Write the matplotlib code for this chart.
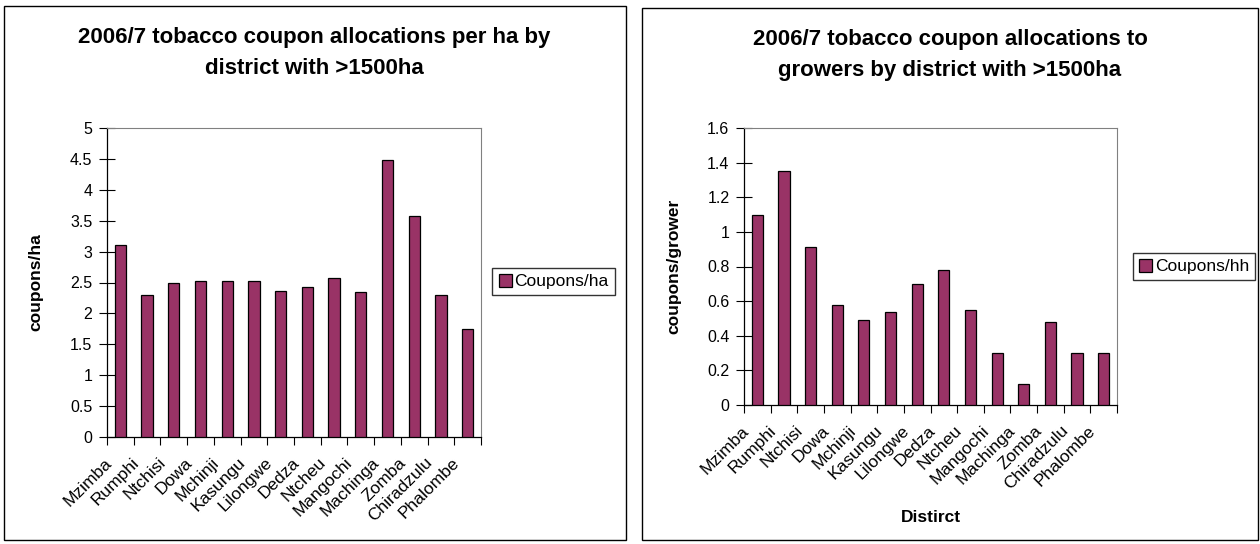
import matplotlib.pyplot as plt
import numpy as np
from matplotlib.patches import Rectangle
from matplotlib.ticker import FormatStrFormatter

plt.rcParams['font.family'] = ['Liberation Sans', 'DejaVu Sans']

# Donnees
districts = ['Mzimba', 'Rumphi', 'Ntchisi', 'Dowa', 'Mchinji', 'Kasungu', 'Lilongwe',
             'Dedza', 'Ntcheu', 'Mangochi', 'Machinga', 'Zomba', 'Chiradzulu', 'Phalombe']
coupons_ha = [3.1, 2.3, 2.5, 2.52, 2.52, 2.52, 2.37, 2.42, 2.57, 2.34, 4.48, 3.58, 2.3, 1.75]
coupons_hh = [1.1, 1.35, 0.91, 0.58, 0.49, 0.54, 0.70, 0.78, 0.55, 0.30, 0.12, 0.48, 0.30, 0.30]

W, H = 1260, 544
fig = plt.figure(figsize=(W / 100, H / 100), dpi=100)

couleur = '#993366'


def px_axes(x0, y0, x1, y1):
    # coordonnees en pixels (origine en haut a gauche)
    return fig.add_axes([x0 / W, 1 - y1 / H, (x1 - x0) / W, (y1 - y0) / H])


def cadre(x0, y0, x1, y1):
    fig.patches.append(Rectangle((x0 / W, 1 - y1 / H), (x1 - x0) / W, (y1 - y0) / H,
                                 transform=fig.transFigure, fill=False, edgecolor='black', lw=1.0))


def dessiner(ax, valeurs, ymax, pas, label_y, nom_serie, leg_box):
    n = len(valeurs)
    centres = np.arange(n) + 0.5
    barres = ax.bar(centres, valeurs, width=0.42, color=couleur, edgecolor='black', lw=0.9,
                    label=nom_serie, zorder=3)
    ax.set_xlim(0, n)
    ax.set_ylim(0, ymax)
    ax.set_yticks(np.arange(0, ymax + pas / 2, pas))
    ax.yaxis.set_major_formatter(FormatStrFormatter('%g'))
    ax.set_xticks(np.arange(n + 1))
    ax.set_xticklabels([])
    # etiquettes inclinees, decalees comme dans Excel
    for c, nom in zip(centres, districts):
        ax.annotate(nom, xy=(c, 0), xycoords=('data', 'axes fraction'), xytext=(-16, -18),
                    textcoords='offset pixels', rotation=45, ha='right', va='top',
                    rotation_mode='anchor', fontsize=12.5, annotation_clip=False)
    ax.tick_params(axis='x', which='major', length=6, direction='out', width=0.8)
    ax.tick_params(axis='y', length=11, direction='inout', width=0.8, labelsize=11.5, pad=5)
    for s in ['top', 'right']:
        ax.spines[s].set_color('#808080')
        ax.spines[s].set_linewidth(0.8)
    for s in ['left', 'bottom']:
        ax.spines[s].set_linewidth(0.9)
    ax.set_ylabel(label_y, fontsize=12.5, fontweight='bold')
    x0, y0, x1, y1 = leg_box
    fig.legend(handles=[barres], loc='center', fontsize=12.5, frameon=True, fancybox=False,
               edgecolor='black', handlelength=0.75, handleheight=0.75, handletextpad=0.15,
               borderpad=0.35, borderaxespad=0,
               bbox_to_anchor=((x0 + x1) / 2 / W, 1 - (y0 + y1) / 2 / H),
               bbox_transform=fig.transFigure)


# Graphique de gauche
cadre(4, 6, 626, 540)
ax1 = px_axes(107, 128, 481, 437)
dessiner(ax1, coupons_ha, 5, 0.5, 'coupons/ha', 'Coupons/ha', (492, 266, 615, 297))
ax1.yaxis.set_label_coords(-0.171, 0.5)
fig.text(314 / W, 1 - 53 / H, '2006/7 tobacco coupon allocations per ha by\ndistrict with >1500ha',
         ha='center', va='center', fontsize=16, fontweight='bold', linespacing=1.6)

# Graphique de droite
cadre(642, 8, 1258, 540)
ax2 = px_axes(744, 128, 1117, 405)
dessiner(ax2, coupons_hh, 1.6, 0.2, 'coupons/grower', 'Coupons/hh', (1132, 252, 1256, 281))
ax2.yaxis.set_label_coords(-0.169, 0.5)
fig.text(931 / W, 1 - 517 / H, 'Distirct', ha='center', va='center', fontsize=12.5, fontweight='bold')
fig.text(950 / W, 1 - 55 / H, '2006/7 tobacco coupon allocations to\ngrowers by district with >1500ha',
         ha='center', va='center', fontsize=16, fontweight='bold', linespacing=1.6)

fig.savefig('out.png', dpi=100)
